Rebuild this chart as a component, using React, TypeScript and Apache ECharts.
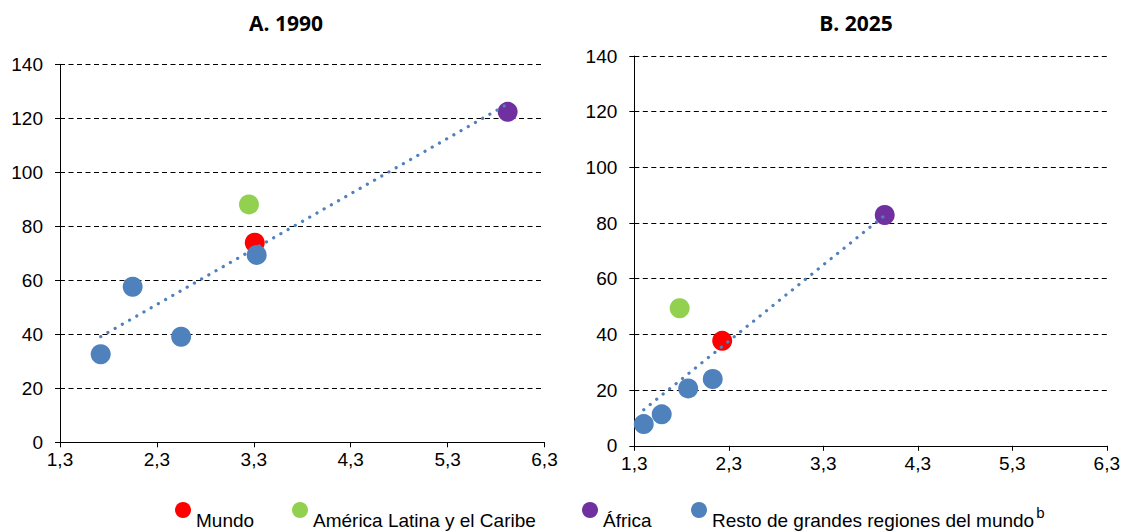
import React, { useEffect, useRef } from "react";
import * as echarts from "echarts";

// ---- Data ----
const seriesNames = [
  "Mundo",
  "América Latina y el Caribe",
  "África",
  "Resto de grandes regiones del mundo",
];
const seriesColors = ["#FF0000", "#92D050", "#7030A0", "#4F81BD"];

// Panel A. 1990  [x, y]
const mundo1990 = [[3.31, 73.9]];
const latam1990 = [[3.25, 88.1]];
const africa1990 = [[5.92, 122.4]];
const resto1990 = [
  [1.72, 32.6],
  [2.05, 57.6],
  [2.55, 39.1],
  [3.33, 69.4],
];

// Panel B. 2025  [x, y]
const mundo2025 = [[2.23, 37.7]];
const latam2025 = [[1.78, 49.4]];
const africa2025 = [[3.95, 82.9]];
const resto2025 = [
  [1.4, 7.8],
  [1.59, 11.3],
  [1.87, 20.6],
  [2.13, 24.0],
];

const xTicks = [1.3, 2.3, 3.3, 4.3, 5.3, 6.3];
const yMin = 0;
const yMax = 140;
const yStep = 20;
const panelTitles = ["A. 1990", "B. 2025"];

// Linear least-squares trend over the regions (excluding the world aggregate)
function trend(points: number[][]) {
  const n = points.length;
  const mx = points.reduce((s, p) => s + p[0], 0) / n;
  const my = points.reduce((s, p) => s + p[1], 0) / n;
  let sxy = 0;
  let sxx = 0;
  points.forEach((p) => {
    sxy += (p[0] - mx) * (p[1] - my);
    sxx += (p[0] - mx) * (p[0] - mx);
  });
  const b = sxy / sxx;
  const a = my - b * mx;
  const xs = points.map((p) => p[0]);
  const x0 = Math.min(...xs);
  const x1 = Math.max(...xs);
  return [
    [x0, a + b * x0],
    [x1, a + b * x1],
  ];
}

const FONT = "'Liberation Sans', Arial, sans-serif";

export default function App() {
  const ref = useRef<HTMLDivElement>(null);

  useEffect(() => {
    if (!ref.current) return;
    const chart = echarts.init(ref.current, undefined, { renderer: "svg" });

    const panels = [
      { data: [mundo1990, latam1990, africa1990, resto1990] },
      { data: [mundo2025, latam2025, africa2025, resto2025] },
    ];

    const grids = [
      { left: 60, width: 484.5, top: 64.3, height: 378 },
      { left: 634.3, width: 475, top: 56, height: 389.8 },
    ];

    const xAxes = grids.map((_, i) => ({
      type: "value",
      gridIndex: i,
      min: xTicks[0],
      max: xTicks[xTicks.length - 1],
      axisLine: { show: true, onZero: false, lineStyle: { color: "#000", width: 1 } },
      axisTick: {
        show: true,
        inside: false,
        length: 5,
        customValues: xTicks,
        lineStyle: { color: "#000" },
      },
      axisLabel: {
        customValues: xTicks,
        color: "#000",
        fontSize: 19,
        fontFamily: FONT,
        margin: 8,
        formatter: (v: number) => v.toFixed(1).replace(".", ","),
      },
      splitLine: { show: false },
    }));

    const yAxes = grids.map((_, i) => ({
      type: "value",
      gridIndex: i,
      min: yMin,
      max: yMax,
      interval: yStep,
      axisLine: { show: true, lineStyle: { color: "#000", width: 1 } },
      axisTick: { show: true, inside: false, length: 5, lineStyle: { color: "#000" } },
      axisLabel: {
        color: "#000",
        fontSize: 19,
        fontFamily: FONT,
        margin: 17,
      },
      splitLine: {
        show: true,
        showMinLine: false,
        lineStyle: { color: "#000", width: 1, type: [5, 3.5] },
      },
    }));

    const series: any[] = [];
    panels.forEach((p, i) => {
      p.data.forEach((d, k) => {
        series.push({
          name: seriesNames[k],
          type: "scatter",
          xAxisIndex: i,
          yAxisIndex: i,
          data: d,
          symbol: "circle",
          symbolSize: 20,
          itemStyle: { color: seriesColors[k], opacity: 1 },
          z: 2,
        });
      });
      const regions = [...p.data[1], ...p.data[2], ...p.data[3]];
      series.push({
        name: "Tendencia",
        type: "line",
        xAxisIndex: i,
        yAxisIndex: i,
        data: trend(regions),
        symbol: "none",
        lineStyle: {
          color: "#4F81BD",
          width: 3.2,
          type: [0.1, 8.2],
          cap: "round",
        },
        z: 5,
        silent: true,
      });
    });

    const legendLefts = [175, 292, 582, 691];
    const legends = seriesNames.map((name, k) => ({
      data: [name],
      left: legendLefts[k],
      top: 502,
      padding: 0,
      itemWidth: 16,
      itemHeight: 16,
      itemGap: 0,
      icon: "circle",
      selectedMode: false,
      textStyle: {
        color: "#000",
        fontSize: 19,
        fontFamily: FONT,
        padding: [20, 0, 0, 0],
        rich: {
          n: { fontSize: 19, fontFamily: FONT, color: "#000", lineHeight: 30 },
          s: {
            fontSize: 15,
            fontFamily: FONT,
            color: "#000",
            lineHeight: 16,
            verticalAlign: "top",
            padding: [0, 0, 0, 2],
          },
        },
      },
      formatter: (nm: string) =>
        nm === seriesNames[3] ? "{n|" + nm + "}{s|b}" : "{n|" + nm + "}",
    }));

    chart.setOption({
      animation: false,
      backgroundColor: "#fff",
      title: panelTitles.map((t, i) => ({
        text: t,
        left: i === 0 ? 286 : 856,
        top: 12,
        textAlign: "center",
        padding: 0,
        textStyle: {
          fontSize: 21,
          fontWeight: "bold",
          fontFamily: "'Open Sans', 'Noto Sans', sans-serif",
          color: "#000",
        },
      })),
      legend: legends,
      grid: grids,
      xAxis: xAxes,
      yAxis: yAxes,
      series,
    });

    return () => chart.dispose();
  }, []);

  return (
    <div
      ref={ref}
      style={{ position: "fixed", left: 0, top: 0, width: 1123, height: 532 }}
    />
  );
}
